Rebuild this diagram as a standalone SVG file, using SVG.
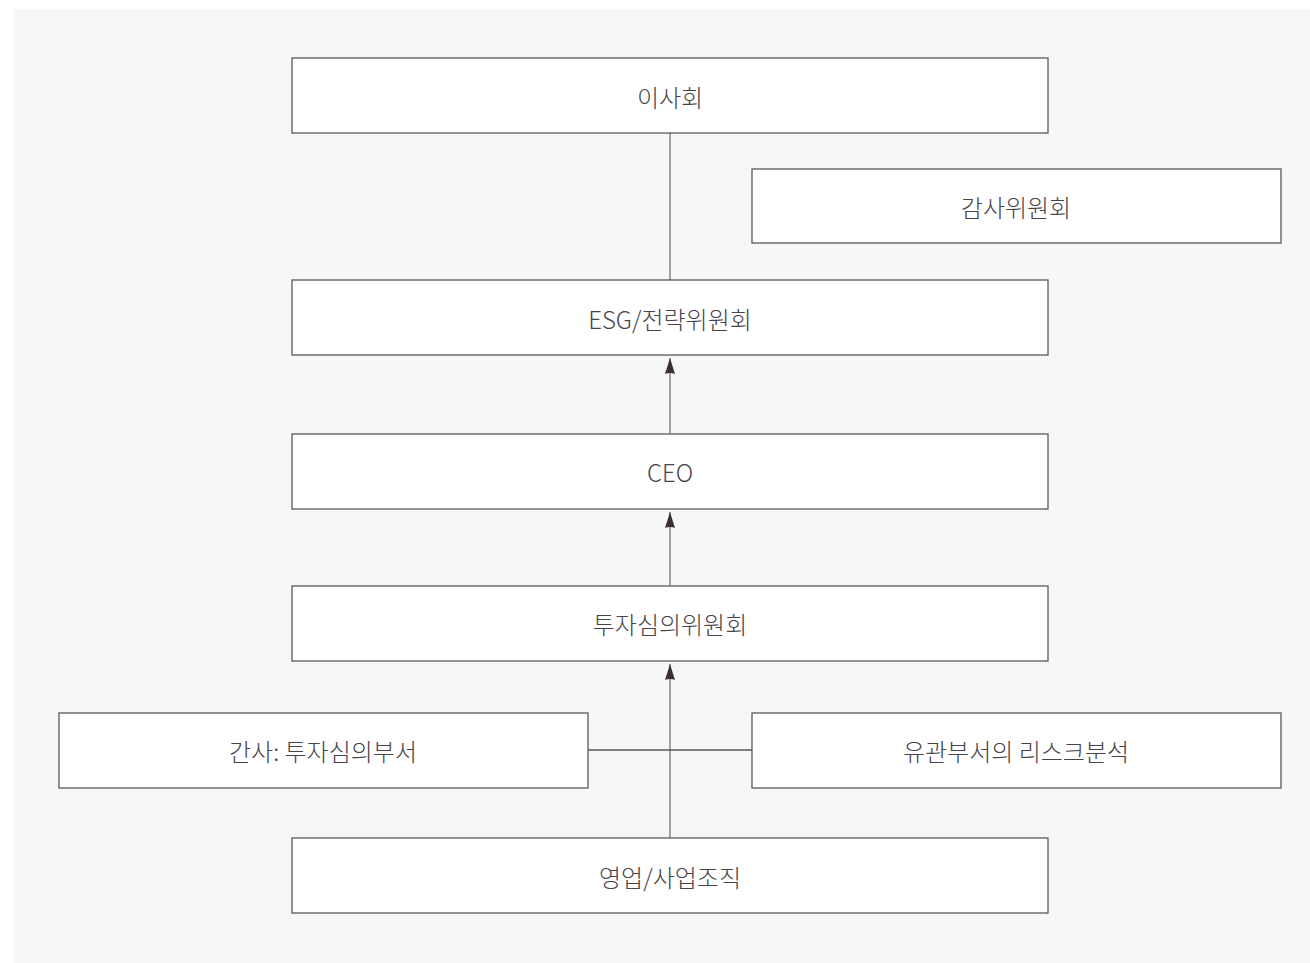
<svg xmlns="http://www.w3.org/2000/svg" width="1310" height="963" viewBox="0 0 1310 963">
<defs>
<style>
.box{fill:#ffffff;stroke:#5e5659;stroke-width:1.3}
.lbl{font-family:"Noto Sans CJK KR","Noto Sans",sans-serif;font-size:24px;font-weight:300;fill:#48434a;text-anchor:middle;dominant-baseline:central}
.ln{stroke:#8a8587;stroke-width:1.5;fill:none}
.hl{stroke:#5e5659;stroke-width:1.3;fill:none}
</style>
<marker id="arr" viewBox="0 0 16 10" refX="16" refY="5" markerWidth="16" markerHeight="10" markerUnits="userSpaceOnUse" orient="auto">
<path d="M16 5 L0 0 Q2 5 0 10 Z" fill="#3a3034"/>
</marker>
</defs>
<rect x="14" y="9" width="1296" height="954" fill="#f7f7f7"/>
<g id="connectors">
<line class="ln" x1="670" y1="133" x2="670" y2="280"/>
<line class="ln" x1="670" y1="434" x2="670" y2="358" marker-end="url(#arr)"/>
<line class="ln" x1="670" y1="586" x2="670" y2="512" marker-end="url(#arr)"/>
<line class="ln" x1="670" y1="838" x2="670" y2="664" marker-end="url(#arr)"/>
<line class="hl" x1="588" y1="750" x2="752" y2="750"/>
</g>
<g id="board"><rect class="box" x="292" y="58" width="756" height="75"/><text class="lbl" x="670" y="96">이사회</text></g>
<g id="audit"><rect class="box" x="752" y="169" width="529" height="74"/><text class="lbl" x="1016" y="206">감사위원회</text></g>
<g id="esg"><rect class="box" x="292" y="280" width="756" height="75"/><text class="lbl" x="670" y="318">ESG/전략위원회</text></g>
<g id="ceo"><rect class="box" x="292" y="434" width="756" height="75"/><text class="lbl" x="670" y="471">CEO</text></g>
<g id="invest"><rect class="box" x="292" y="586" width="756" height="75"/><text class="lbl" x="670" y="623">투자심의위원회</text></g>
<g id="secretary"><rect class="box" x="59" y="713" width="529" height="75"/><text class="lbl" x="323" y="750">간사: 투자심의부서</text></g>
<g id="risk"><rect class="box" x="752" y="713" width="529" height="75"/><text class="lbl" x="1016" y="750">유관부서의 리스크분석</text></g>
<g id="sales"><rect class="box" x="292" y="838" width="756" height="75"/><text class="lbl" x="670" y="876">영업/사업조직</text></g>
</svg>
